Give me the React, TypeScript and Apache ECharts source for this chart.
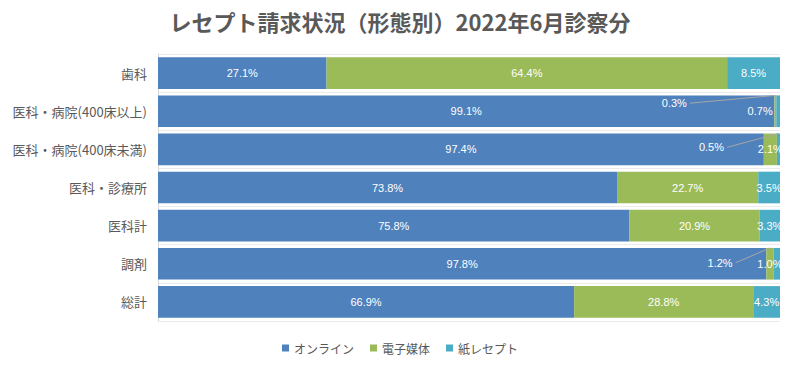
import React, { useEffect, useRef } from "react";
import * as echarts from "echarts";

const titleText = "レセプト請求状況（形態別）2022年6月診察分";
const categories = [
  "歯科",
  "医科・病院(400床以上)",
  "医科・病院(400床未満)",
  "医科・診療所",
  "医科計",
  "調剤",
  "総計",
];
const seriesNames = ["オンライン", "電子媒体", "紙レセプト"];
const online = [27.1, 99.1, 97.4, 73.8, 75.8, 97.8, 66.9];
const electronic = [64.4, 0.3, 2.1, 22.7, 20.9, 1.2, 28.8];
const paper = [8.5, 0.7, 0.5, 3.5, 3.3, 1.0, 4.3];
const colors = ["#4F81BD", "#9BBB59", "#4BACC6"];

const BAR_GAP = 0.17;
const LABEL_FONT = "11px 'Liberation Sans'";

// label shifts for very thin segments (seriesIndex-dataIndex)
const labelShifts: Record<string, { dx: number; dy: number; line: boolean }> = {
  "1-1": { dx: -101, dy: -8, line: true },
  "2-2": { dx: -67, dy: -2, line: true },
  "1-5": { dx: -50, dy: -1, line: true },
  "2-1": { dx: -18, dy: 0, line: false },
  "2-5": { dx: -7, dy: 0, line: false },
};

const fmt = (v: number) => v.toFixed(1) + "%";

export default function App() {
  const ref = useRef<HTMLDivElement>(null);
  useEffect(() => {
    document.body.style.margin = "0";
    if (!ref.current) return;
    const chart = echarts.init(ref.current, null, { renderer: "svg" });
    const all = [online, electronic, paper];
    chart.setOption({
      animation: false,
      title: {
        text: titleText,
        left: "center",
        top: 5,
        textStyle: {
          fontFamily: "Noto Sans CJK JP",
          fontSize: 22,
          fontWeight: "bold",
          color: "#595959",
        },
      },
      legend: {
        bottom: 8,
        left: "center",
        icon: "rect",
        itemWidth: 7,
        itemHeight: 7,
        itemGap: 16,
        textStyle: { fontFamily: "Noto Sans CJK JP", fontSize: 12, color: "#595959" },
        data: seriesNames,
      },
      grid: { left: 158, right: 20, top: 54, bottom: 46 },
      xAxis: { type: "value", min: 0, max: 100, show: false },
      yAxis: {
        type: "category",
        inverse: true,
        data: categories,
        axisTick: { show: false },
        axisLine: { show: true, lineStyle: { color: "#d9d9d9" } },
        splitLine: { show: true, lineStyle: { color: "#ebebeb" } },
        axisLabel: {
          margin: 11,
          fontFamily: "Noto Sans CJK JP",
          fontSize: 13,
          color: "#595959",
        },
      },
      series: all.map((arr, s) => ({
        name: seriesNames[s],
        type: "bar",
        stack: "total",
        barCategoryGap: BAR_GAP * 100 + "%",
        itemStyle: { color: colors[s] },
        label: {
          show: true,
          position: "inside",
          color: "#ffffff",
          fontFamily: "Liberation Sans",
          fontSize: 11,
          formatter: (p: any) => fmt(Number(p.value)),
        },
        labelLayout: (p: any) => {
          const c = labelShifts[`${p.seriesIndex}-${p.dataIndex}`];
          return c ? { dx: c.dx, dy: c.dy } : {};
        },
        data: arr.map((v) => ({ value: v })),
      })),
    });

    // leader lines for moved labels
    const ctx = document.createElement("canvas").getContext("2d");
    if (ctx) ctx.font = LABEL_FONT;
    const c0 = chart.convertToPixel({ gridIndex: 0 }, [0, 0]) as number[];
    const c1 = chart.convertToPixel({ gridIndex: 0 }, [0, 1]) as number[];
    const band = Math.abs(c1[1] - c0[1]);
    const half = (band * (1 - BAR_GAP)) / 2;
    const lines: any[] = [];
    Object.keys(labelShifts).forEach((key) => {
      const cfg = labelShifts[key];
      if (!cfg.line) return;
      const [s, i] = key.split("-").map(Number);
      let start = 0;
      for (let k = 0; k < s; k++) start += all[k][i];
      const v = all[s][i];
      const pStart = chart.convertToPixel({ gridIndex: 0 }, [start, i]) as number[];
      const pEnd = chart.convertToPixel({ gridIndex: 0 }, [start + v, i]) as number[];
      const cx = (pStart[0] + pEnd[0]) / 2;
      const cy = pStart[1];
      const tw = ctx ? ctx.measureText(fmt(v)).width : 22;
      const x1 = cx + cfg.dx + tw / 2 + 3;
      const y1 = cy + cfg.dy;
      lines.push({
        type: "line",
        silent: true,
        z: 10,
        shape: { x1, y1, x2: cx, y2: cy - half },
        style: { stroke: "#a6a6a6", lineWidth: 1 },
      });
    });
    chart.setOption({ graphic: lines });

    return () => chart.dispose();
  }, []);
  return <div ref={ref} style={{ width: 800, height: 367 }} />;
}
